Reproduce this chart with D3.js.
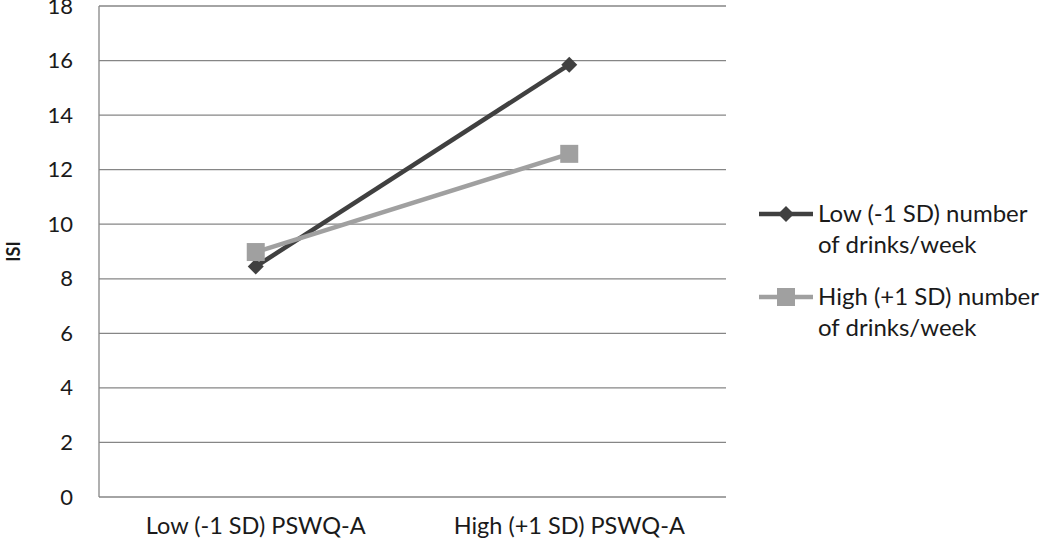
<!DOCTYPE html>
<html><head><meta charset="utf-8">
<script src="https://cdn.jsdelivr.net/npm/d3@7"></script>
<style>body{margin:0;background:#fff}svg{display:block}</style>
</head><body><svg id="c" width="1050" height="546"></svg>
<script>
const categories = ["Low (-1 SD) PSWQ-A", "High (+1 SD) PSWQ-A"];
const seriesNames = ["Low (-1 SD) number of drinks/week", "High (+1 SD) number of drinks/week"];
const lowDrinks = [8.45, 15.85];
const highDrinks = [8.98, 12.58];
const yTicks = [0, 2, 4, 6, 8, 10, 12, 14, 16, 18];
const yLabel = "ISI";

const svg = d3.select("#c");
const m = {l: 99, r: 726, t: 6, b: 497};
const x = d3.scaleBand().domain(categories).range([m.l, m.r]);
const y = d3.scaleLinear().domain([0, 18]).range([m.b, m.t]);
const font = "Lato, 'Open Sans', sans-serif";

// grid
svg.append("g").selectAll("line").data(yTicks).join("line")
  .attr("x1", m.l).attr("x2", m.r)
  .attr("y1", d => y(d)).attr("y2", d => y(d))
  .attr("stroke", "#868686").attr("stroke-width", 1.3);
svg.append("line").attr("x1", m.l).attr("x2", m.l).attr("y1", m.t).attr("y2", m.b)
  .attr("stroke", "#868686").attr("stroke-width", 1.3);

const ya = svg.append("g").attr("transform", `translate(${m.l},0)`)
  .call(d3.axisLeft(y).tickValues(yTicks).tickSize(0).tickPadding(26));
ya.select(".domain").remove();
ya.selectAll("text").attr("font-family", font).attr("font-size", 22).attr("fill", "#1a1a1a");

const xa = svg.append("g").attr("transform", `translate(0,${m.b})`)
  .call(d3.axisBottom(x).tickSize(0).tickPadding(20));
xa.select(".domain").remove();
xa.selectAll("text").attr("font-family", font).attr("font-size", 23.5).attr("fill", "#1a1a1a");

svg.append("text").attr("transform", `translate(20,${(m.t + m.b) / 2}) rotate(-90)`)
  .attr("text-anchor", "middle").attr("font-family", font).attr("font-weight", "bold")
  .attr("font-size", 18).attr("fill", "#1a1a1a").text(yLabel);

const cx = d => x(d) + x.bandwidth() / 2;
const series = [
  {vals: lowDrinks, color: "#404040", shape: "diamond"},
  {vals: highDrinks, color: "#a0a0a0", shape: "square"}
];
const line = d3.line().x((d, i) => cx(categories[i])).y(d => y(d));
series.forEach(s => {
  svg.append("path").attr("d", line(s.vals)).attr("fill", "none")
    .attr("stroke", s.color).attr("stroke-width", 4.5);
});
function marker(g, shape, color, px, py) {
  if (shape === "diamond") {
    g.append("path").attr("d", `M${px},${py - 8}L${px + 8},${py}L${px},${py + 8}L${px - 8},${py}Z`).attr("fill", color);
  } else {
    g.append("rect").attr("x", px - 9).attr("y", py - 9).attr("width", 18).attr("height", 18).attr("fill", color);
  }
}
series.forEach(s => {
  s.vals.forEach((v, i) => marker(svg, s.shape, s.color, cx(categories[i]), y(v)));
});

// legend
const legendLines = [["Low (-1 SD) number", "of drinks/week"], ["High (+1 SD) number", "of drinks/week"]];
const ly = [214, 297];
series.forEach((s, i) => {
  const g = svg.append("g");
  g.append("line").attr("x1", 759).attr("x2", 813).attr("y1", ly[i]).attr("y2", ly[i])
    .attr("stroke", s.color).attr("stroke-width", 4.5);
  marker(g, s.shape, s.color, 786, ly[i]);
  const t = g.append("text").attr("font-family", font).attr("font-size", 24).attr("fill", "#1a1a1a");
  legendLines[i].forEach((ln, j) => {
    t.append("tspan").attr("x", 818).attr("y", ly[i] + 8 + j * 31).text(ln);
  });
});
</script></body></html>
